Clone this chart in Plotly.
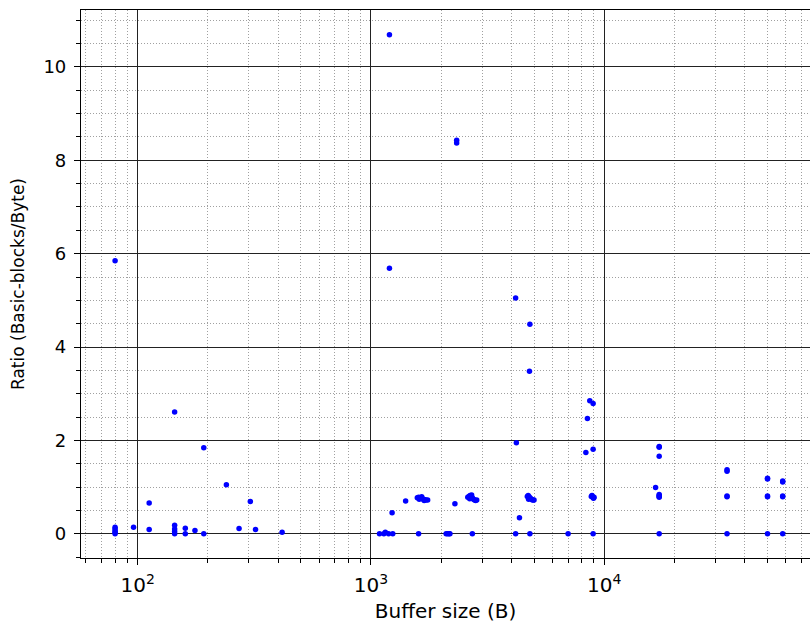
import plotly.graph_objects as go

# Data (buffer size in bytes, ratio basic-blocks/byte)
buffer_sizes = [
    80, 80, 80, 80, 80, 80,
    96,
    112, 112,
    144, 144, 144, 144, 144,
    160, 160,
    176,
    192, 192,
    240, 272, 304, 320, 416,
    1088, 1136, 1152, 1190, 1200, 1200, 1240, 1232,
    1408,
    1580, 1600, 1620, 1640, 1660, 1680, 1700, 1720, 1750, 1610, 1650, 1690,
    1600,
    2100, 2130, 2160, 2180,
    2290,
    2330, 2330,
    2600, 2630, 2660, 2690, 2720, 2750, 2780, 2810, 2840, 2650, 2700,
    2720,
    4170, 4170, 4200, 4330,
    4800, 4800, 4780,
    4680, 4720, 4760, 4800, 4850, 4900, 4950, 5000, 4740,
    7000,
    8340, 8470, 8670, 8960, 8960,
    8800, 8860, 8920, 8960, 9000, 9040,
    8960,
    16600, 17200, 17200, 17200,
    17200, 17200, 17200, 17200,
    17200,
    33600, 33600, 33600, 33600, 33600,
    50100, 50100, 50100, 50100, 50100,
    58200, 58200, 58200, 58200, 58200,
]
ratios = [
    0.0, 0.03, 0.06, 0.10, 0.14, 5.85,
    0.14,
    0.09, 0.66,
    0.0, 0.05, 0.10, 0.18, 2.61,
    0.0, 0.12,
    0.07,
    0.0, 1.84,
    1.05, 0.11, 0.69, 0.09, 0.03,
    0.0, 0.0, 0.03, 0.0, 10.69, 5.69, 0.0, 0.45,
    0.70,
    0.77, 0.78, 0.77, 0.76, 0.75, 0.74, 0.73, 0.72, 0.72, 0.74, 0.79, 0.71,
    0.0,
    0.0, 0.0, 0.0, 0.0,
    0.64,
    8.43, 8.37,
    0.78, 0.80, 0.82, 0.80, 0.77, 0.74, 0.72, 0.71, 0.72, 0.75, 0.83,
    0.0,
    0.0, 5.05, 1.95, 0.34,
    0.0, 4.49, 3.48,
    0.80, 0.82, 0.79, 0.77, 0.75, 0.73, 0.72, 0.72, 0.74,
    0.0,
    1.74, 2.47, 2.85, 2.79, 1.81,
    0.80, 0.82, 0.79, 0.77, 0.76, 0.78,
    0.0,
    0.99, 1.85, 1.87, 1.66,
    0.78, 0.80, 0.82, 0.84,
    0.0,
    1.34, 1.37, 0.79, 0.81, 0.0,
    1.17, 1.19, 0.79, 0.81, 0.0,
    1.11, 1.13, 0.79, 0.81, 0.0,
]

x_major = [100, 1000, 10000]
x_major_text = ["10<sup>2</sup>", "10<sup>3</sup>", "10<sup>4</sup>"]
x_minor = [m * 10 ** k for k in range(1, 5) for m in range(2, 10)]
y_major = [0, 2, 4, 6, 8, 10]
y_minor = [v * 0.5 for v in range(-2, 24)]

font_family = "DejaVu Sans"

fig = go.Figure()
fig.add_trace(go.Scatter(
    x=buffer_sizes, y=ratios, mode="markers",
    marker=dict(color="#0000ff", size=5.5, line=dict(width=0)),
    showlegend=False,
))

fig.update_layout(
    width=810, height=623,
    margin=dict(l=81, r=0, t=10, b=65),
    paper_bgcolor="white", plot_bgcolor="white",
    font=dict(family=font_family, size=16, color="black"),
)

fig.update_xaxes(
    type="log", range=[1.757, 4.882],
    tickmode="array", tickvals=x_major, ticktext=x_major_text,
    ticks="outside", ticklen=6, tickwidth=1, tickcolor="black",
    showline=True, linecolor="black", linewidth=1.2, mirror=True,
    showgrid=True, gridcolor="#222222", gridwidth=1,
    zeroline=False,
    minor=dict(tickmode="array", tickvals=x_minor, ticks="outside", ticklen=3.5,
               tickcolor="black", showgrid=True, gridcolor="#a0a0a0",
               griddash="1px,2px", gridwidth=1),
    title=dict(text="Buffer size (B)", font=dict(size=20), standoff=8),
    tickfont=dict(size=20),
    ticklabelstandoff=3,
)

fig.update_yaxes(
    range=[-0.52, 11.22],
    tickmode="array", tickvals=y_major,
    ticks="outside", ticklen=6, tickwidth=1, tickcolor="black",
    showline=True, linecolor="black", linewidth=1.2,
    showgrid=True, gridcolor="#222222", gridwidth=1,
    zeroline=False,
    minor=dict(tickmode="array", tickvals=y_minor, ticks="outside", ticklen=3.5,
               tickcolor="black", showgrid=True, gridcolor="#a0a0a0",
               griddash="1px,2px", gridwidth=1),
    title=dict(text="Ratio (Basic-blocks/Byte)", font=dict(size=17), standoff=14),
    tickfont=dict(size=18),
    ticklabelstandoff=4,
)

fig.write_html("out.html")
